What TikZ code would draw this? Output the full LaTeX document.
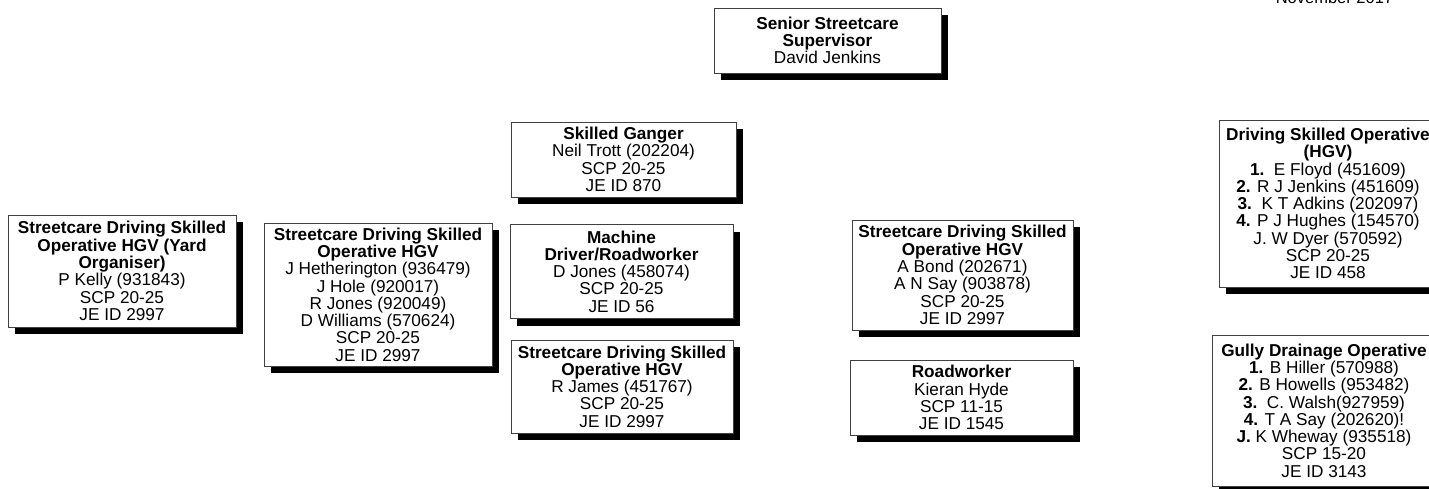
\documentclass[tikz,border=0pt]{standalone}
\usepackage{fontspec}
\setmainfont{Liberation Sans}
\usetikzlibrary{shadows}
\tikzset{
  orgbox/.style={draw=black!75, line width=0.8pt, fill=white, align=center,
    inner sep=0pt, font=\fontsize{17.2}{17.3}\selectfont,
    drop shadow={shadow xshift=7pt, shadow yshift=-7pt, fill=black, opacity=1}},
  datetext/.style={font=\fontsize{16.5}{17}\selectfont, inner sep=0pt, anchor=base}
}
\begin{document}
\begin{tikzpicture}[x=1pt,y=-1pt]
\useasboundingbox (0,0) rectangle (1429,489);
\clip (0,0) rectangle (1429,489);
\node[datetext] (date) at (1334.5,3.5) {November 2017};
\node[orgbox, minimum width=227pt, minimum height=65pt] (top) at (827.5,40.5)
  {\textbf{Senior Streetcare}\\\textbf{Supervisor}\\David Jenkins};
\node[orgbox, minimum width=228pt, minimum height=112pt] (kelly) at (122,271)
  {\textbf{Streetcare Driving Skilled}\\\textbf{Operative HGV (Yard}\\\textbf{Organiser)}\\P Kelly (931843)\\SCP 20-25\\JE ID 2997};
\node[orgbox, minimum width=228pt, minimum height=143pt] (heth) at (378,294.5)
  {\textbf{Streetcare Driving Skilled}\\\textbf{Operative HGV}\\J Hetherington (936479)\\J Hole (920017)\\R Jones (920049)\\D Williams (570624)\\SCP 20-25\\JE ID 2997};
\node[orgbox, minimum width=225pt, minimum height=75pt] (ganger) at (623.5,159.5)
  {\textbf{Skilled Ganger}\\Neil Trott (202204)\\SCP 20-25\\JE ID 870};
\node[orgbox, minimum width=223pt, minimum height=94pt] (machine) at (621.5,271.5)
  {\textbf{Machine}\\\textbf{Driver/Roadworker}\\D Jones (458074)\\SCP 20-25\\JE ID 56};
\node[orgbox, minimum width=222pt, minimum height=93pt] (james) at (622,386.5)
  {\textbf{Streetcare Driving Skilled}\\\textbf{Operative HGV}\\R James (451767)\\SCP 20-25\\JE ID 2997};
\node[orgbox, minimum width=221pt, minimum height=110pt] (bond) at (962.5,275)
  {\textbf{Streetcare Driving Skilled}\\\textbf{Operative HGV}\\A Bond (202671)\\A N Say (903878)\\SCP 20-25\\JE ID 2997};
\node[orgbox, minimum width=223pt, minimum height=75pt] (road) at (961.5,397.5)
  {\textbf{Roadworker}\\Kieran Hyde\\SCP 11-15\\JE ID 1545};
\node[orgbox, minimum width=218pt, minimum height=167pt] (dso) at (1328,203.5)
  {\textbf{Driving Skilled Operative}\\\textbf{(HGV)}\\\textbf{1.}\ \ E Floyd (451609)\\\textbf{2.} R J Jenkins (451609)\\\textbf{3.}\ \ K T Adkins (202097)\\\textbf{4.} P J Hughes (154570)\\J. W Dyer (570592)\\SCP 20-25\\JE ID 458};
\node[orgbox, minimum width=224pt, minimum height=151pt] (gully) at (1324,410.5)
  {\textbf{Gully Drainage Operative}\\\textbf{1.} B Hiller (570988)\\\textbf{2.} B Howells (953482)\\\textbf{3.}\ \ C. Walsh(927959)\\\textbf{4.} T A Say (202620)!\\\textbf{J.} K Wheway (935518)\\SCP 15-20\\JE ID 3143};
\end{tikzpicture}
\end{document}
